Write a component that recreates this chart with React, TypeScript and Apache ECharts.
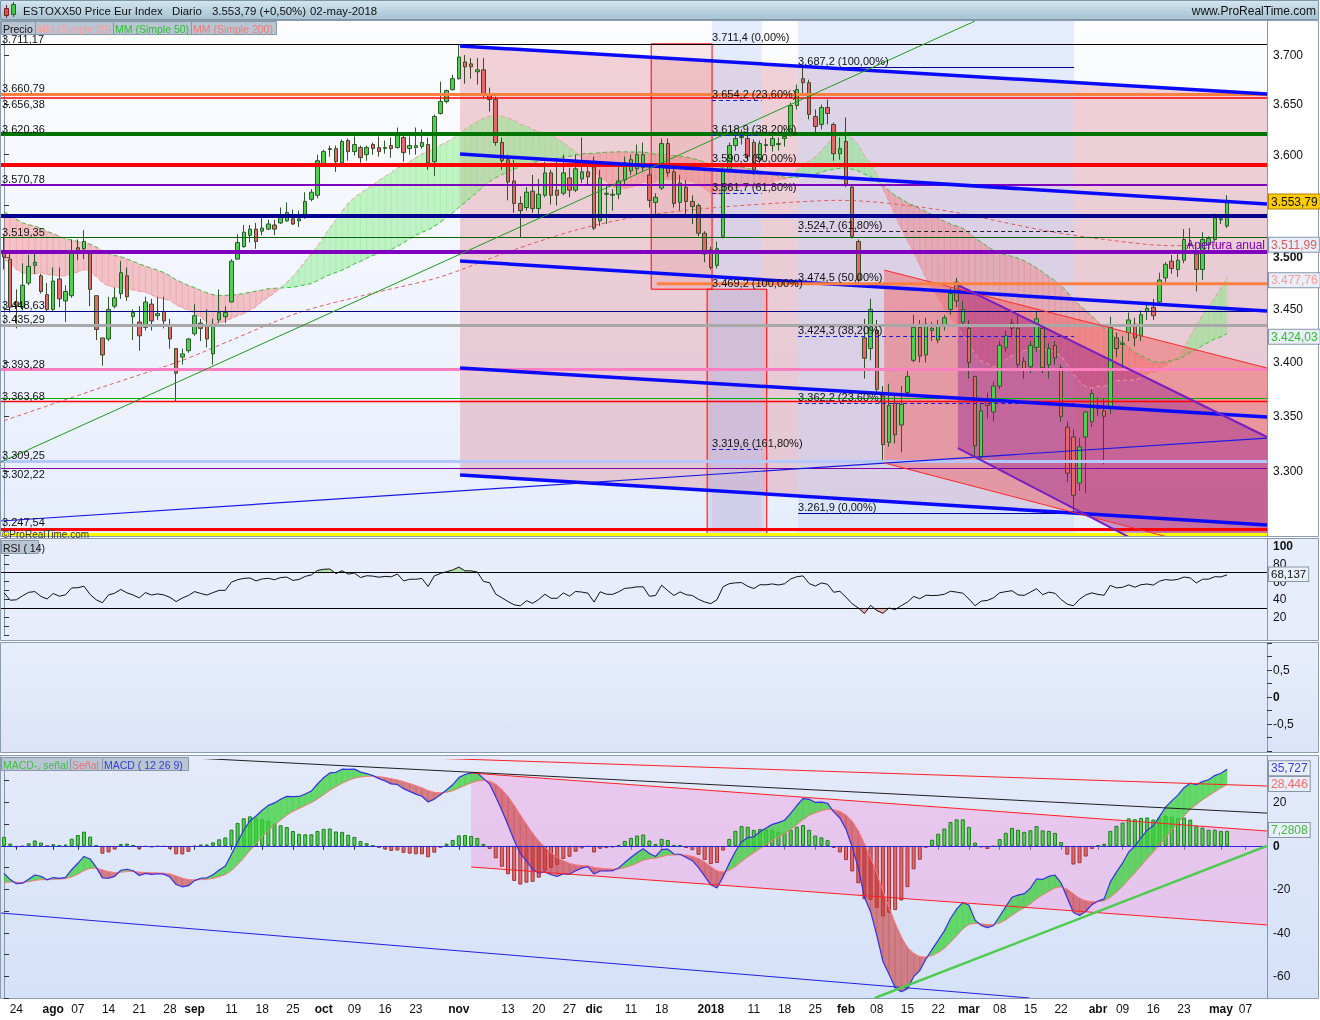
import React, { useEffect, useRef } from 'react';
import * as echarts from 'echarts';

const FONT = 'Arial, "Liberation Sans", Helvetica, sans-serif';

// ---------------- calendar ----------------
const calendarStart = '2017-07-20';
const calendarEnd = '2018-05-10';
const holidays = ['2017-12-25', '2017-12-26', '2018-01-01', '2018-03-30', '2018-04-02'];

// ---------------- x-axis tick labels ----------------
const xTickLabels: [string, string][] = [
  ['2017-07-24', '24'], ['2017-08-01', 'ago'], ['2017-08-07', '07'], ['2017-08-14', '14'],
  ['2017-08-21', '21'], ['2017-08-28', '28'], ['2017-09-01', 'sep'], ['2017-09-11', '11'],
  ['2017-09-18', '18'], ['2017-09-25', '25'], ['2017-10-02', 'oct'], ['2017-10-09', '09'],
  ['2017-10-16', '16'], ['2017-10-23', '23'], ['2017-11-01', 'nov'], ['2017-11-13', '13'],
  ['2017-11-20', '20'], ['2017-11-27', '27'], ['2017-12-01', 'dic'], ['2017-12-11', '11'],
  ['2017-12-18', '18'], ['2018-01-02', '2018'], ['2018-01-11', '11'], ['2018-01-18', '18'],
  ['2018-01-25', '25'], ['2018-02-01', 'feb'], ['2018-02-08', '08'], ['2018-02-15', '15'],
  ['2018-02-22', '22'], ['2018-03-01', 'mar'], ['2018-03-08', '08'], ['2018-03-15', '15'],
  ['2018-03-22', '22'], ['2018-04-03', 'abr'], ['2018-04-09', '09'], ['2018-04-16', '16'],
  ['2018-04-23', '23'], ['2018-05-01', 'may'], ['2018-05-07', '07'],
];
const boldTickLabels = ['ago', 'sep', 'oct', 'nov', 'dic', '2018', 'feb', 'mar', 'abr', 'may'];

// ---------------- daily candles [open, high, low, close] ----------------
const ohlc: number[][] = [
  [3505, 3520, 3488, 3500], [3498, 3505, 3447, 3452], [3457, 3469, 3432, 3454], [3452, 3494, 3449, 3473], [3475, 3502, 3473, 3491],
  [3492, 3505, 3484, 3495], [3482, 3484, 3465, 3467], [3464, 3475, 3448, 3450], [3450, 3490, 3448, 3477], [3479, 3490, 3452, 3460],
  [3458, 3473, 3438, 3467], [3463, 3517, 3461, 3505], [3509, 3517, 3497, 3506], [3508, 3526, 3498, 3515], [3506, 3506, 3453, 3469],
  [3463, 3463, 3421, 3431], [3423, 3423, 3397, 3407], [3422, 3462, 3420, 3450], [3453, 3471, 3451, 3461], [3465, 3496, 3460, 3485],
  [3482, 3490, 3458, 3462], [3443, 3450, 3421, 3447], [3438, 3453, 3411, 3425], [3433, 3462, 3430, 3457], [3455, 3460, 3430, 3439],
  [3444, 3462, 3440, 3446], [3448, 3462, 3432, 3439], [3434, 3441, 3413, 3422], [3413, 3413, 3364, 3390], [3405, 3413, 3398, 3408],
  [3411, 3423, 3409, 3422], [3427, 3455, 3425, 3444], [3437, 3441, 3420, 3432], [3434, 3450, 3414, 3422], [3408, 3441, 3398, 3435],
  [3440, 3469, 3437, 3447], [3443, 3453, 3437, 3447], [3457, 3498, 3457, 3496], [3498, 3522, 3498, 3514], [3510, 3531, 3509, 3524],
  [3521, 3531, 3514, 3527], [3527, 3533, 3508, 3515], [3525, 3538, 3521, 3528], [3527, 3536, 3526, 3532], [3531, 3536, 3521, 3527],
  [3533, 3548, 3532, 3540], [3535, 3553, 3534, 3543], [3537, 3546, 3531, 3532], [3535, 3545, 3529, 3537], [3539, 3563, 3537, 3554],
  [3556, 3566, 3554, 3563], [3560, 3600, 3557, 3594], [3591, 3605, 3588, 3603], [3605, 3609, 3598, 3606], [3606, 3609, 3583, 3593],
  [3592, 3615, 3590, 3613], [3614, 3616, 3594, 3603], [3603, 3618, 3599, 3610], [3607, 3609, 3592, 3597], [3600, 3609, 3594, 3607],
  [3610, 3612, 3600, 3606], [3607, 3618, 3598, 3603], [3606, 3614, 3601, 3607], [3609, 3617, 3597, 3606], [3607, 3627, 3606, 3619],
  [3617, 3619, 3593, 3602], [3606, 3618, 3600, 3609], [3607, 3627, 3600, 3609], [3608, 3625, 3606, 3612], [3610, 3617, 3585, 3592],
  [3593, 3640, 3579, 3638], [3641, 3673, 3640, 3653], [3653, 3665, 3651, 3664], [3665, 3680, 3664, 3676], [3676, 3711, 3675, 3698],
  [3693, 3700, 3671, 3688], [3691, 3697, 3676, 3688], [3683, 3697, 3670, 3685], [3685, 3697, 3657, 3659], [3659, 3667, 3643, 3655],
  [3655, 3658, 3609, 3612], [3612, 3617, 3585, 3594], [3595, 3600, 3555, 3573], [3574, 3595, 3543, 3552], [3552, 3559, 3519, 3545],
  [3548, 3568, 3545, 3563], [3564, 3580, 3543, 3547], [3547, 3576, 3541, 3561], [3560, 3593, 3558, 3582], [3582, 3585, 3551, 3560],
  [3565, 3593, 3550, 3560], [3562, 3600, 3560, 3582], [3577, 3587, 3558, 3565], [3565, 3600, 3563, 3586], [3576, 3617, 3572, 3583],
  [3583, 3590, 3570, 3578], [3588, 3598, 3526, 3528], [3535, 3585, 3530, 3577], [3561, 3569, 3532, 3562], [3560, 3566, 3545, 3561],
  [3561, 3590, 3556, 3574], [3575, 3598, 3570, 3592], [3584, 3600, 3580, 3595], [3586, 3610, 3580, 3600], [3587, 3612, 3583, 3600],
  [3580, 3588, 3548, 3555], [3553, 3562, 3538, 3558], [3567, 3616, 3565, 3611], [3611, 3616, 3578, 3582], [3583, 3590, 3548, 3552],
  [3553, 3580, 3545, 3572], [3568, 3575, 3540, 3554], [3554, 3560, 3532, 3549], [3550, 3552, 3520, 3523], [3523, 3525, 3495, 3503],
  [3507, 3510, 3488, 3490], [3492, 3515, 3489, 3508], [3520, 3587, 3518, 3585], [3585, 3612, 3583, 3609], [3609, 3622, 3604, 3616],
  [3617, 3625, 3610, 3618], [3616, 3620, 3594, 3598], [3612, 3615, 3580, 3585], [3595, 3614, 3590, 3611], [3609, 3616, 3602, 3610],
  [3609, 3620, 3603, 3616], [3610, 3617, 3604, 3611], [3616, 3626, 3608, 3618], [3620, 3652, 3618, 3649], [3649, 3670, 3645, 3665],
  [3676, 3687, 3660, 3672], [3672, 3675, 3635, 3640], [3638, 3645, 3620, 3628], [3630, 3650, 3625, 3647], [3647, 3655, 3630, 3641],
  [3630, 3632, 3594, 3601], [3601, 3617, 3595, 3606], [3613, 3637, 3568, 3571], [3568, 3570, 3518, 3520], [3515, 3517, 3475, 3478],
  [3423, 3441, 3385, 3404], [3413, 3460, 3402, 3450], [3430, 3440, 3370, 3375], [3369, 3378, 3310, 3324], [3326, 3380, 3322, 3360],
  [3362, 3370, 3325, 3333], [3342, 3378, 3317, 3361], [3372, 3392, 3368, 3387], [3402, 3445, 3400, 3433], [3433, 3440, 3400, 3406],
  [3407, 3442, 3400, 3436], [3430, 3438, 3420, 3432], [3421, 3440, 3418, 3434], [3435, 3445, 3430, 3442], [3450, 3470, 3445, 3465],
  [3476, 3480, 3452, 3458], [3438, 3458, 3434, 3450], [3432, 3440, 3385, 3400], [3387, 3387, 3312, 3323], [3313, 3362, 3308, 3355],
  [3366, 3372, 3348, 3360], [3354, 3382, 3345, 3378], [3378, 3420, 3375, 3416], [3414, 3430, 3410, 3425], [3437, 3441, 3425, 3432],
  [3432, 3445, 3394, 3398], [3401, 3405, 3385, 3394], [3396, 3420, 3390, 3416], [3414, 3448, 3410, 3441], [3432, 3435, 3390, 3395],
  [3398, 3418, 3385, 3413], [3416, 3420, 3398, 3404], [3395, 3398, 3345, 3350], [3340, 3345, 3290, 3298], [3331, 3338, 3262, 3278],
  [3289, 3330, 3282, 3322], [3331, 3355, 3280, 3354], [3345, 3375, 3340, 3371], [3360, 3368, 3350, 3357], [3355, 3366, 3306, 3350],
  [3358, 3443, 3352, 3433], [3423, 3428, 3405, 3413], [3417, 3425, 3395, 3418], [3428, 3447, 3420, 3440], [3436, 3442, 3415, 3423],
  [3425, 3449, 3420, 3445], [3448, 3456, 3440, 3451], [3452, 3460, 3440, 3444], [3457, 3485, 3455, 3478], [3480, 3495, 3476, 3493],
  [3496, 3502, 3484, 3489], [3488, 3503, 3481, 3497], [3497, 3527, 3494, 3517], [3512, 3528, 3508, 3513], [3503, 3507, 3467, 3488],
  [3488, 3524, 3478, 3517], [3512, 3520, 3505, 3518], [3517, 3542, 3515, 3538], [3536, 3540, 3532, 3537], [3530, 3560, 3528, 3553.79],
];

// estimated closes before the visible window (May-Jul 2017), only used to warm up the indicators
const priorCloses = [
  3580, 3575, 3620, 3640, 3645, 3650, 3645, 3630, 3635, 3650, 3645, 3585, 3555, 3585, 3590, 3595, 3585, 3580, 3575, 3575, 3555, 3555,
  3570, 3585, 3580, 3555, 3555, 3560, 3570, 3545, 3560, 3550, 3530, 3555, 3585, 3570, 3550, 3555, 3545, 3565, 3540, 3525, 3480, 3442,
  3490, 3478, 3485, 3460, 3465, 3475, 3465, 3510, 3525, 3525, 3515, 3480, 3495,
];

// MM (Simple 200): [bar index, value]
const ma200Points: number[][] = [
  [0, 3346], [16, 3377], [29, 3402], [37, 3421], [48, 3447], [59, 3464], [71, 3481], [82, 3505], [93, 3526],
  [103, 3539], [114, 3547], [125, 3552], [136, 3555], [152, 3546], [169, 3526], [179, 3517], [190, 3511], [199, 3512],
];

// price axis
const priceTicks = [3300, 3350, 3400, 3450, 3500, 3550, 3600, 3650, 3700];
const priceMin = 3241.5;
const priceMax = 3734.8;

// horizontal levels
const levelPrices = [3711.17, 3660.79, 3656.38, 3620.36, 3590.3, 3570.78, 3539.7, 3519.35, 3505.0, 3448.63, 3435.29, 3393.28, 3366.3, 3363.68, 3309.25, 3302.22, 3247.54, 3243.5];
const levelLabels = ['3.711,17', '3.660,79', '3.656,38', '3.620,36', '', '3.570,78', '', '3.519,35', '', '3.448,63', '3.435,29', '3.393,28', '', '3.363,68', '3.309,25', '3.302,22', '3.247,54', ''];
const levelLabelBelow = [2, 15]; // indices whose label sits under the line
const levelColors = ['#000000', '#ff7f3f', '#ff0000', '#007400', '#ff0000', '#8000c0', '#000090', '#006400', '#8000c0', '#000080', '#a8a8a8', '#ff80c0', '#00b000', '#ff0000', '#b4c8ff', '#8000a0', '#ff0000', '#ffff00'];
const levelWidths = [1, 3, 1.5, 4, 4, 2, 4, 1, 4, 1, 3, 3, 1, 1.3, 3, 1, 3, 3];
const yearOpenPrice = 3505.0;
const yearOpenLabel = 'Apertura anual';

// Fibonacci tools
const fibAValues = [3711.4, 3654.2, 3618.9, 3590.3, 3561.7, 3469.2, 3319.6];
const fibAPct = ['0,00%', '23,60%', '38,20%', '50,00%', '61,80%', '100,00%', '161,80%'];
const fibASpan = [115.2, 123.3];
const fibBValues = [3687.2, 3524.7, 3474.5, 3424.3, 3362.2, 3261.9];
const fibBPct = ['100,00%', '61,80%', '50,00%', '38,20%', '23,60%', '0,00%'];
const fibBSpan = [129.2, 174.1];

// channels and trend lines: [bar index, price]
const blueChannel = [
  [[74.2, 3709.2], [205.5, 3660.5]],
  [[74.2, 3600.6], [205.5, 3551.4]],
  [[74.2, 3496.2], [205.5, 3448.4]],
  [[74.2, 3394.8], [205.5, 3349.4]],
  [[74.2, 3296.4], [205.5, 3251.3]],
];
const blueRising = [[-0.5, 3254.9], [205.5, 3330.0]];
const greenRising = [[-0.5, 3308.1], [158, 3734.8]];
const salmonChannel = [[[143.2, 3487.5], [205.5, 3394.8]], [[143.2, 3307.3], [205.5, 3217.6]]];
const purpleChannel = [[[155.2, 3473.2], [205.5, 3331.0]], [[155.2, 3320.9], [205.5, 3177.1]]];
const orangeFibLine = [[106.2, 3474.5], [205.5, 3474.5]];
const redBox1 = [105.3, 115.2, 3711.4, 3469.2];
const redBox2 = [114.4, 124.1, 3469.2, 3242];

// MACD panel trend lines: [bar index, MACD value]
const macdChannelTop = [[76.0, 33.55], [205.5, 6.86]];
const macdChannelBottom = [[76.0, -9.71], [205.5, -36.4]];
const macdRedTop = [[64.4, 40.9], [205.5, 27.56]];
const macdBlack = [[27, 41], [205.5, 15.1]];
const macdBlue = [[-0.5, -30.88], [166.9, -70]];
const macdGreen = [[141.7, -70], [205.5, 0]];

// last values shown on the right
const lastClose = 3553.79;
const lastMA200 = 3511.99;
const lastMA20 = 3477.76;
const lastMA50 = 3424.03;
const lastRSI = 68.137;
const lastMACD = 35.727;
const lastSignal = 28.446;
const lastHist = 7.2808;

// ---------------- helpers ----------------
function fmtNum(v: number, dec: number): string {
  const s = Math.abs(v).toFixed(dec);
  const parts = s.split('.');
  const int = parts[0].replace(/\B(?=(\d{3})+(?!\d))/g, '.');
  return (v < 0 ? '-' : '') + (parts[1] ? int + ',' + parts[1] : int);
}

function buildDates(): string[] {
  const out: string[] = [];
  const d = new Date(calendarStart + 'T12:00:00Z');
  const end = new Date(calendarEnd + 'T12:00:00Z');
  while (d.getTime() <= end.getTime()) {
    const wd = d.getUTCDay();
    const s = d.toISOString().slice(0, 10);
    if (wd !== 0 && wd !== 6 && holidays.indexOf(s) < 0) out.push(s);
    d.setUTCDate(d.getUTCDate() + 1);
  }
  return out;
}

function sma(all: number[], n: number, offset: number, len: number) {
  const out: (number | null)[] = [];
  for (let i = 0; i < len; i++) {
    const j = i + offset;
    if (j < n - 1) { out.push(null); continue; }
    let s = 0;
    for (let k = j - n + 1; k <= j; k++) s += all[k];
    out.push(s / n);
  }
  return out;
}

function ema(arr: number[], n: number) {
  const a = 2 / (n + 1);
  const out: number[] = [];
  arr.forEach((v, i) => out.push(i === 0 ? v : a * v + (1 - a) * out[i - 1]));
  return out;
}

function rsiCalc(arr: number[], n: number) {
  const out: (number | null)[] = arr.map(() => null);
  let g = 0, l = 0;
  for (let i = 1; i < arr.length; i++) {
    const ch = arr[i] - arr[i - 1];
    const up = Math.max(ch, 0), dn = Math.max(-ch, 0);
    if (i <= n) {
      g += up; l += dn;
      if (i === n) { g /= n; l /= n; out[i] = 100 - 100 / (1 + g / l); }
    } else {
      g = (g * (n - 1) + up) / n;
      l = (l * (n - 1) + dn) / n;
      out[i] = l === 0 ? 100 : 100 - 100 / (1 + g / l);
    }
  }
  return out;
}

function bandSeries(a: any[], b: any[], pos: string | null, neg: string | null, xi: number, yi: number, z: number) {
  const data: number[][] = [];
  for (let i = 0; i < a.length - 1; i++) {
    if (a[i] == null || b[i] == null || a[i + 1] == null || b[i + 1] == null) continue;
    data.push([i, a[i], b[i], a[i + 1], b[i + 1]]);
  }
  return {
    type: 'custom', xAxisIndex: xi, yAxisIndex: yi, z, silent: true, clip: true,
    encode: { x: 0, y: 1 },
    data,
    renderItem: (params: any, api: any) => {
      const i = api.value(0);
      const a0 = api.value(1), b0 = api.value(2), a1 = api.value(3), b1 = api.value(4);
      const A0 = api.coord([i, a0]), B0 = api.coord([i, b0]);
      const A1 = api.coord([i + 1, a1]), B1 = api.coord([i + 1, b1]);
      const d0 = a0 - b0, d1 = a1 - b1;
      const kids: any[] = [];
      const poly = (pts: number[][], col: string | null) => {
        if (col) kids.push({ type: 'polygon', shape: { points: pts }, style: { fill: col, stroke: col, lineWidth: 0.4 } });
      };
      if (d0 >= 0 && d1 >= 0) poly([A0, A1, B1, B0], pos);
      else if (d0 <= 0 && d1 <= 0) poly([A0, A1, B1, B0], neg);
      else {
        const t = d0 / (d0 - d1);
        const C = [A0[0] + t * (A1[0] - A0[0]), A0[1] + t * (A1[1] - A0[1])];
        poly([A0, C, B0], d0 > 0 ? pos : neg);
        poly([C, A1, B1], d1 > 0 ? pos : neg);
      }
      return { type: 'group', children: kids };
    },
  };
}

type Shape = { pts: number[][]; fill?: string; stroke?: string; lw?: number; dash?: number[] };

function shapesSeries(shapes: Shape[], xi: number, yi: number, z: number, yf: (v: number) => number, anchor: number) {
  return {
    type: 'custom', xAxisIndex: xi, yAxisIndex: yi, z, silent: true, clip: true,
    encode: { x: 0, y: 1 },
    data: shapes.map((_, k) => [k, anchor]),
    renderItem: (params: any, api: any) => {
      const s = shapes[params.dataIndex];
      const pts = s.pts.map((p) => api.coord([p[0], yf(p[1])]));
      if (s.fill) {
        return { type: 'polygon', shape: { points: pts }, style: { fill: s.fill, stroke: s.stroke || 'none', lineWidth: s.lw || 0 } };
      }
      return { type: 'polyline', shape: { points: pts }, style: { fill: 'none', stroke: s.stroke, lineWidth: s.lw || 1, lineDash: s.dash || null } };
    },
  };
}

function box(x0: number, x1: number, p0: number, p1: number) {
  return [[x0, p0], [x1, p0], [x1, p1], [x0, p1]];
}

const CLEAR = 'rgba(0,0,0,0)';

function valueBox(v: number, xEnd: number, text: string, color: string, bg: string, border: string, size = 12) {
  return [
    {
      coord: [-0.5, v],
      lineStyle: { color: CLEAR, width: 1, type: 'solid' },
      label: {
        show: true, position: 'end', formatter: text, color, backgroundColor: bg, borderColor: border, borderWidth: 1,
        padding: [1, 2, 0, 2], fontSize: size, fontFamily: FONT, distance: 2, lineHeight: size + 1,
      },
    },
    { coord: [xEnd, v] },
  ];
}

function buildOption() {
  const ln = Math.log;
  const dates = buildDates();
  const N = dates.length;
  const xEnd = N - 0.5;
  const labelMap: Record<string, string> = {};
  xTickLabels.forEach(([d, t]) => { labelMap[d] = t; });

  const closes = ohlc.map((c) => c[3]);
  const all = priorCloses.concat(closes);
  const P = priorCloses.length;
  const ma20 = sma(all, 20, P, closes.length);
  const ma50 = sma(all, 50, P, closes.length);
  const e12 = ema(all, 12), e26 = ema(all, 26);
  const macdAll = e12.map((v, i) => v - e26[i]);
  const sigAll = ema(macdAll, 9);
  const macd = macdAll.slice(P), signal = sigAll.slice(P);
  const hist = macd.map((v, i) => v - signal[i]);
  const rsi = rsiCalc(all, 14).slice(P);

  const ma20ln = ma20.map((v) => (v == null ? null : ln(v)));
  const ma50ln = ma50.map((v) => (v == null ? null : ln(v)));

  const axisLabelStyle = { color: '#111', fontSize: 12, fontFamily: FONT };
  const bold = { b: { fontWeight: 'bold', fontSize: 12, fontFamily: FONT, color: '#111' } };

  const priceFills: Shape[] = [
    { pts: [blueChannel[0][0], blueChannel[0][1], blueChannel[4][1], blueChannel[4][0]], fill: 'rgba(220,120,135,0.33)' },
    { pts: box(fibASpan[0], fibASpan[1], priceMax, priceMin), fill: 'rgba(200,215,250,0.45)' },
    { pts: box(fibBSpan[0], fibBSpan[1], priceMax, priceMin), fill: 'rgba(200,215,250,0.45)' },
    { pts: box(redBox1[0], redBox1[1], redBox1[2], redBox1[3]), fill: 'rgba(225,90,90,0.14)', stroke: '#ff0000', lw: 1 },
    { pts: box(redBox2[0], redBox2[1], redBox2[2], redBox2[3]), fill: 'rgba(170,110,160,0.18)', stroke: '#ff0000', lw: 1 },
  ];
  const priceFills2: Shape[] = [
    { pts: [salmonChannel[0][0], salmonChannel[0][1], salmonChannel[1][1], salmonChannel[1][0]], fill: 'rgba(240,100,100,0.5)' },
    { pts: [purpleChannel[0][0], purpleChannel[0][1], purpleChannel[1][1], purpleChannel[1][0]], fill: 'rgba(150,30,140,0.42)' },
  ];
  const priceLines: Shape[] = [
    ...blueChannel.map((l) => ({ pts: l, stroke: '#0a0aff', lw: 3.5 })),
    { pts: blueRising, stroke: '#1a1ae6', lw: 1.2 },
    { pts: greenRising, stroke: '#1f9a1f', lw: 1 },
    ...salmonChannel.map((l) => ({ pts: l, stroke: '#ff2a2a', lw: 1 })),
    ...purpleChannel.map((l) => ({ pts: l, stroke: '#7a20c0', lw: 2 })),
    { pts: orangeFibLine, stroke: '#ff8040', lw: 3 },
  ];

  const macdFills: Shape[] = [
    { pts: [macdChannelTop[0], macdChannelTop[1], macdChannelBottom[1], macdChannelBottom[0]], fill: 'rgba(240,165,225,0.5)' },
  ];
  const macdLines: Shape[] = [
    { pts: macdRedTop, stroke: '#ff2020', lw: 1 },
    { pts: macdChannelTop, stroke: '#ff2020', lw: 1 },
    { pts: macdChannelBottom, stroke: '#ff2020', lw: 1 },
    { pts: macdBlack, stroke: '#202020', lw: 1 },
    { pts: macdBlue, stroke: '#2020e0', lw: 1 },
    { pts: macdGreen, stroke: '#4ccc4c', lw: 2.5 },
  ];

  const levelLines = levelPrices.map((p, k) => {
    const isYear = Math.abs(p - yearOpenPrice) < 0.01;
    const below = levelLabelBelow.indexOf(k) >= 0;
    return [
      {
        coord: [-0.5, ln(p)],
        lineStyle: { color: levelColors[k], width: levelWidths[k], type: 'solid' },
        label: isYear
          ? { show: true, position: 'insideEndTop', formatter: yearOpenLabel, color: '#8000c0', fontSize: 12, fontFamily: FONT, distance: [2, 1] }
          : levelLabels[k]
            ? { show: true, position: below ? 'insideStartBottom' : 'insideStartTop', formatter: levelLabels[k], color: '#111', fontSize: 11, fontFamily: FONT, distance: [1, k === 16 ? 2 : 0] }
            : { show: false },
      },
      { coord: [xEnd, ln(p)] },
    ];
  });

  const fibLine = (v: number, txt: string, span: number[], style: any) => [
    {
      coord: [span[0], ln(v)],
      lineStyle: style,
      label: { show: true, position: 'insideStartTop', formatter: txt, color: '#111', fontSize: 11, fontFamily: FONT, distance: [0, 1] },
    },
    { coord: [span[1], ln(v)] },
  ];
  const dashBlue = { color: '#1a1ae6', width: 1, type: [4, 3] };
  const hidden = { color: CLEAR, width: 1, type: 'solid' };
  const fibAStyles = [hidden, dashBlue, dashBlue, hidden, dashBlue, hidden, dashBlue];
  const fibBStyles = [
    { color: '#000090', width: 1, type: 'solid' }, { color: '#222', width: 1, type: [4, 3] }, hidden,
    dashBlue, dashBlue, { color: '#000090', width: 1, type: 'solid' },
  ];
  const fibData = [
    ...fibAValues.map((v, k) => fibLine(v, `${fmtNum(v, 1)} (${fibAPct[k]})`, fibASpan, fibAStyles[k])),
    ...fibBValues.map((v, k) => fibLine(v, `${fmtNum(v, 1)} (${fibBPct[k]})`, fibBSpan, fibBStyles[k])),
  ];

  const xHidden = (grid: number, type: string) => ({
    gridIndex: grid, type, show: false,
    ...(type === 'category' ? { data: dates, boundaryGap: true } : { min: -0.5, max: xEnd }),
  });

  const grad = (a: string, b: string) => new echarts.graphic.LinearGradient(0, 0, 0, 1, [{ offset: 0, color: a }, { offset: 1, color: b }]);
  const legendBox = (x: number, y: number, w: number, txt: string, color: string) => ([
    { type: 'rect', z: 100, shape: { x: x + 0.5, y: y + 0.5, width: w, height: 13 }, style: { fill: '#b7c6d2', stroke: '#8797a7', lineWidth: 1 } },
    { type: 'text', z: 101, x: x + 2, y: y + 7.5, style: { text: txt, fill: color, font: `10.5px ${FONT}`, verticalAlign: 'middle' } },
  ]);
  const titleFont = `11.4px ${FONT}`;

  const graphics: any[] = [
    { type: 'rect', z: -10, silent: true, shape: { x: 0, y: 0, width: 1320, height: 1020 }, style: { fill: '#ffffff' } },
    { type: 'rect', z: -9, silent: true, shape: { x: 0.5, y: 0.5, width: 1318, height: 19 }, style: { fill: grad('#d2e6f0', '#a7c2d2'), stroke: '#7f96a6', lineWidth: 1 } },
    { type: 'rect', z: -9, silent: true, shape: { x: 0.5, y: 20.5, width: 1318, height: 516 }, style: { fill: '#ffffff', stroke: '#8c9cb0', lineWidth: 1 } },
    { type: 'rect', z: -8, silent: true, shape: { x: 1, y: 21, width: 1266, height: 515 }, style: { fill: grad('#fdfdff', '#e6edfc') } },
    { type: 'rect', z: -9, silent: true, shape: { x: 0.5, y: 538.5, width: 1318, height: 102 }, style: { fill: '#e7edfa', stroke: '#8c9cb0', lineWidth: 1 } },
    { type: 'rect', z: -9, silent: true, shape: { x: 0.5, y: 642.5, width: 1318, height: 110 }, style: { fill: grad('#e7edfa', '#dbe4f8'), stroke: '#8c9cb0', lineWidth: 1 } },
    { type: 'rect', z: -9, silent: true, shape: { x: 0.5, y: 755.5, width: 1318, height: 243 }, style: { fill: grad('#e4eafa', '#d5e1f8'), stroke: '#8c9cb0', lineWidth: 1 } },
    { type: 'line', z: -7, silent: true, shape: { x1: 1267.5, y1: 21, x2: 1267.5, y2: 536 }, style: { stroke: '#8797a7', lineWidth: 1 } },
    { type: 'line', z: -7, silent: true, shape: { x1: 1267.5, y1: 539, x2: 1267.5, y2: 640 }, style: { stroke: '#8797a7', lineWidth: 1 } },
    { type: 'line', z: -7, silent: true, shape: { x1: 1267.5, y1: 643, x2: 1267.5, y2: 752 }, style: { stroke: '#8797a7', lineWidth: 1 } },
    { type: 'line', z: -7, silent: true, shape: { x1: 1267.5, y1: 756, x2: 1267.5, y2: 998 }, style: { stroke: '#8797a7', lineWidth: 1 } },
    // title icon
    { type: 'line', z: 100, shape: { x1: 6.5, y1: 5, x2: 6.5, y2: 18 }, style: { stroke: '#7a2020', lineWidth: 1 } },
    { type: 'rect', z: 101, shape: { x: 4.5, y: 8.5, width: 4, height: 7 }, style: { fill: '#e05050', stroke: '#7a2020', lineWidth: 1 } },
    { type: 'line', z: 100, shape: { x1: 13.5, y1: 2, x2: 13.5, y2: 17 }, style: { stroke: '#1f6a1f', lineWidth: 1 } },
    { type: 'rect', z: 101, shape: { x: 11.5, y: 4.5, width: 4, height: 10 }, style: { fill: '#44c844', stroke: '#1f6a1f', lineWidth: 1 } },
    { type: 'text', z: 101, x: 23, y: 10.5, style: { text: 'ESTOXX50 Price Eur Index', fill: '#111', font: titleFont, verticalAlign: 'middle' } },
    { type: 'text', z: 101, x: 172, y: 10.5, style: { text: 'Diario', fill: '#111', font: titleFont, verticalAlign: 'middle' } },
    { type: 'text', z: 101, x: 212, y: 10.5, style: { text: '3.553,79 (+0,50%)', fill: '#111', font: titleFont, verticalAlign: 'middle' } },
    { type: 'text', z: 101, x: 310, y: 10.5, style: { text: '02-may-2018', fill: '#111', font: titleFont, verticalAlign: 'middle' } },
    { type: 'text', z: 101, x: 1316, y: 10.5, style: { text: 'www.ProRealTime.com', fill: '#111', font: `12px ${FONT}`, align: 'right', verticalAlign: 'middle' } },
    ...legendBox(1, 21, 34, 'Precio', '#111'),
    ...legendBox(35, 21, 78, 'MM (Simple 20)', '#ff9a9a'),
    ...legendBox(113, 21, 78, 'MM (Simple 50)', '#2fbf2f'),
    ...legendBox(191, 21, 85, 'MM (Simple 200)', '#ee7b7b'),
    ...legendBox(1, 540, 37, 'RSI ( 14)', '#111'),
    ...legendBox(1, 757, 69, 'MACD-, señal', '#3fbf3f'),
    ...legendBox(70, 757, 32, 'Señal', '#ff6a6a'),
    ...legendBox(102, 757, 86, 'MACD ( 12 26 9)', '#3a3ae0'),
    { type: 'text', z: 101, x: 2, y: 534, style: { text: '©ProRealTime.com', fill: '#333', font: `10px ${FONT}`, verticalAlign: 'middle' } },
  ];

  const gridBase = { left: 1, width: 1266, show: false, outerBoundsMode: 'none', containLabel: false };
  const dummy = (xi: number, yi: number, z: number, data: any[]) => ({
    type: 'line', xAxisIndex: xi, yAxisIndex: yi, z, data: [], silent: true, clip: false,
    markLine: { silent: true, symbol: ['none', 'none'], animation: false, data },
  });

  return {
    animation: false,
    textStyle: { fontFamily: FONT },
    graphic: { elements: graphics },
    grid: [
      { ...gridBase, top: 21, height: 515 },
      { ...gridBase, top: 546, height: 89 },
      { ...gridBase, top: 643, height: 108 },
      { ...gridBase, top: 759, height: 239 },
    ],
    xAxis: [
      xHidden(0, 'category'),
      xHidden(0, 'value'),
      xHidden(1, 'category'),
      xHidden(2, 'category'),
      {
        gridIndex: 3, type: 'category', data: dates, boundaryGap: true,
        axisLine: { show: true, lineStyle: { color: '#8797a7' } },
        axisTick: { show: true, alignWithLabel: true, length: 4, interval: (i: number, v: string) => labelMap[v] !== undefined, lineStyle: { color: '#333' } },
        axisLabel: {
          show: true, margin: 5, ...axisLabelStyle,
          interval: (i: number, v: string) => labelMap[v] !== undefined,
          formatter: (v: string) => {
            const t = labelMap[v] || '';
            return boldTickLabels.indexOf(t) >= 0 ? `{b|${t}}` : t;
          },
          rich: bold,
        },
        splitLine: { show: false },
      },
      xHidden(3, 'value'),
      xHidden(1, 'value'),
    ],
    yAxis: [
      {
        gridIndex: 0, type: 'value', position: 'right', min: ln(priceMin), max: ln(priceMax),
        splitLine: { show: false },
        axisLine: { show: true, lineStyle: { color: '#8797a7' } },
        axisTick: { show: true, length: 5, lineStyle: { color: '#333' }, customValues: priceTicks.map((p) => ln(p)) },
        axisLabel: {
          ...axisLabelStyle, margin: 6, customValues: priceTicks.map((p) => ln(p)),
          formatter: (v: number) => {
            const p = Math.round(Math.exp(v) / 50) * 50;
            if (p === 3550) return '';
            const s = fmtNum(p, 0);
            return p === 3500 ? `{b|${s}}` : s;
          },
          rich: bold,
        },
      },
      {
        gridIndex: 1, type: 'value', position: 'right', min: 0, max: 100, interval: 10,
        splitLine: { show: false },
        axisLine: { show: true, lineStyle: { color: '#8797a7' } },
        axisTick: { show: true, length: 5, lineStyle: { color: '#333' } },
        axisLabel: {
          ...axisLabelStyle, margin: 6,
          formatter: (v: number) => (v === 100 ? '{b|100}' : v > 0 && v % 20 === 0 ? String(v) : ''),
          rich: bold,
        },
      },
      {
        gridIndex: 2, type: 'value', position: 'right', min: -1, max: 1, interval: 0.25,
        splitLine: { show: false },
        axisLine: { show: true, lineStyle: { color: '#8797a7' } },
        axisTick: { show: true, length: 5, lineStyle: { color: '#333' } },
        axisLabel: {
          ...axisLabelStyle, margin: 6,
          formatter: (v: number) => (Math.abs(v) < 1e-9 ? '{b|0}' : Math.abs(v - 0.5) < 1e-9 ? '0,5' : Math.abs(v + 0.5) < 1e-9 ? '-0,5' : ''),
          rich: bold,
        },
      },
      {
        gridIndex: 3, type: 'value', position: 'right', min: -70, max: 40, interval: 10,
        splitLine: { show: false },
        axisLine: { show: true, lineStyle: { color: '#8797a7' } },
        axisTick: { show: true, length: 5, lineStyle: { color: '#333' } },
        axisLabel: {
          ...axisLabelStyle, margin: 6,
          formatter: (v: number) => (v === 0 ? '{b|0}' : v % 20 === 0 && v !== 40 ? String(v) : ''),
          rich: bold,
        },
      },
    ],
    series: [
      // ---- price panel ----
      shapesSeries(priceFills, 1, 0, 1, ln, ln(3500)),
      bandSeries(ma20ln, ma50ln, 'rgba(120,235,120,0.42)', 'rgba(240,110,110,0.38)', 0, 0, 1),
      shapesSeries(priceFills2, 1, 0, 1, ln, ln(3500)),
      {
        type: 'line', name: 'MM (Simple 20)', xAxisIndex: 0, yAxisIndex: 0, z: 2, symbol: 'none', silent: true,
        data: ma20ln.map((v) => (v == null ? '-' : v)),
        lineStyle: { color: '#f29a9a', width: 1, type: [4, 3] },
      },
      {
        type: 'line', name: 'MM (Simple 50)', xAxisIndex: 0, yAxisIndex: 0, z: 2, symbol: 'none', silent: true,
        data: ma50ln.map((v) => (v == null ? '-' : v)),
        lineStyle: { color: '#3cc03c', width: 1, type: [4, 3] },
      },
      {
        type: 'line', name: 'MM (Simple 200)', xAxisIndex: 1, yAxisIndex: 0, z: 2, symbol: 'none', silent: true, smooth: 0.3,
        data: ma200Points.map(([i, v]) => [i, ln(v)]),
        lineStyle: { color: '#e25e5e', width: 1, type: [4, 3] },
      },
      {
        type: 'candlestick', name: 'Precio', xAxisIndex: 0, yAxisIndex: 0, z: 3, silent: true, barWidth: 4,
        data: ohlc.map(([o, h, l, c]) => [ln(o), ln(c), ln(l), ln(h)]),
        itemStyle: { color: '#4fd04f', color0: '#e46868', borderColor: '#2b5a2b', borderColor0: '#3d4a2a', borderWidth: 1 },
      },
      shapesSeries(priceLines, 1, 0, 5, ln, ln(3500)),
      dummy(1, 0, 6, levelLines),
      dummy(1, 0, 7, fibData),
      dummy(1, 0, 8, [
        valueBox(ln(lastClose), xEnd, fmtNum(lastClose, 2), '#111', '#ffcc00', '#b08000'),
        valueBox(ln(lastMA200), xEnd, fmtNum(lastMA200, 2), '#e05a5a', '#e9eff9', '#8797a7'),
        valueBox(ln(lastMA20), xEnd, fmtNum(lastMA20, 2), '#ff9a9a', '#e9eff9', '#8797a7'),
        valueBox(ln(lastMA50), xEnd, fmtNum(lastMA50, 2), '#2fbf2f', '#e9eff9', '#8797a7'),
      ]),
      // ---- RSI panel ----
      bandSeries(rsi, rsi.map(() => 70), '#aee2ae', null, 2, 1, 1),
      bandSeries(rsi.map(() => 30), rsi, '#f0b0b0', null, 2, 1, 1),
      {
        type: 'line', name: 'RSI', xAxisIndex: 2, yAxisIndex: 1, z: 3, symbol: 'none', silent: true,
        data: rsi.map((v) => (v == null ? '-' : v)),
        lineStyle: { color: '#111', width: 1 },
        markLine: {
          silent: true, symbol: ['none', 'none'], animation: false,
          data: [
            { yAxis: 70, lineStyle: { color: '#000', width: 1, type: 'solid' }, label: { show: false } },
            { yAxis: 30, lineStyle: { color: '#000', width: 1, type: 'solid' }, label: { show: false } },
          ],
        },
      },
      dummy(6, 1, 8, [valueBox(lastRSI, xEnd, fmtNum(lastRSI, 3), '#111', '#e9eff9', '#8797a7', 11.5)]),
      // ---- empty panel ----
      { type: 'line', xAxisIndex: 3, yAxisIndex: 2, data: [], silent: true },
      // ---- MACD panel ----
      shapesSeries(macdFills, 5, 3, 1, (v) => v, 0),
      {
        type: 'bar', name: 'MACD-, señal', xAxisIndex: 4, yAxisIndex: 3, z: 2, barWidth: 4, silent: true,
        data: hist.map((v) => ({
          value: v,
          itemStyle: v >= 0
            ? { color: '#52d452', borderColor: '#1f7f1f', borderWidth: 1 }
            : { color: '#e26a6a', borderColor: '#a33333', borderWidth: 1 },
        })),
      },
      bandSeries(macd, signal, 'rgba(60,210,60,0.75)', 'rgba(200,60,60,0.6)', 4, 3, 3),
      {
        type: 'line', name: 'Señal', xAxisIndex: 4, yAxisIndex: 3, z: 4, symbol: 'none', silent: true,
        data: signal, lineStyle: { color: '#ff7a7a', width: 1 },
      },
      {
        type: 'line', name: 'MACD', xAxisIndex: 4, yAxisIndex: 3, z: 4, symbol: 'none', silent: true,
        data: macd, lineStyle: { color: '#3434e6', width: 1.2 },
        markLine: {
          silent: true, symbol: ['none', 'none'], animation: false,
          data: [{ yAxis: 0, lineStyle: { color: '#2a2ae0', width: 1, type: 'solid' }, label: { show: false } }],
        },
      },
      shapesSeries(macdLines, 5, 3, 5, (v) => v, 0),
      dummy(5, 3, 8, [
        valueBox(lastMACD, xEnd, fmtNum(lastMACD, 3), '#3a3ae0', '#e9eff9', '#8797a7'),
        valueBox(lastSignal, xEnd, fmtNum(lastSignal, 3), '#ff6a6a', '#e9eff9', '#8797a7'),
        valueBox(lastHist, xEnd, fmtNum(lastHist, 4), '#3fbf3f', '#e9eff9', '#8797a7'),
      ]),
    ],
  };
}

export default function App() {
  const ref = useRef<HTMLDivElement>(null);
  useEffect(() => {
    if (!ref.current) return;
    const chart = echarts.init(ref.current, null, { renderer: 'svg' });
    chart.setOption(buildOption() as any);
    return () => chart.dispose();
  }, []);
  return <div ref={ref} style={{ position: 'fixed', left: 0, top: 0, width: 1320, height: 1020 }} />;
}
